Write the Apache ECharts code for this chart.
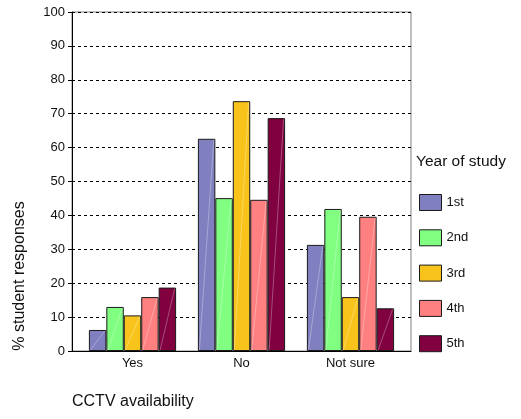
<!DOCTYPE html>
<html>
<head>
<meta charset="utf-8">
<script src="https://cdn.jsdelivr.net/npm/echarts@6/dist/echarts.min.js"></script>
<style>
	html, body {margin: 0; padding: 0; background: #fff;}
	#chart {width: 521px; height: 419px;}
</style>
</head>
<body>
<div id="chart"></div>
<script>
	var categories = ['Yes', 'No', 'Not sure'];
	var years = ['1st', '2nd', '3rd', '4th', '5th'];
	var year1 = [6.2, 62.6, 31.3];
	var year2 = [13.0, 45.1, 41.9];
	var year3 = [10.5, 73.7, 15.9];
	var year4 = [15.9, 44.6, 39.6];
	var year5 = [18.7, 68.7, 12.6];
	var colors = ['#8080c0', '#80ff80', '#f8c41c', '#ff8080', '#800040'];

	var fontFamily = '"Liberation Sans", Arial, sans-serif';
	var seriesData = [year1, year2, year3, year4, year5];
	var seriesArr = [];
	var shineData = [];//faint diagonal highlight on each bar
	for (var i = 0; i < years.length; i++) {
		seriesArr.push({
			name: years[i],
			type: 'bar',
			xAxisIndex: 1,
			yAxisIndex: 1,
			data: seriesData[i],
			barGap: '0%',
			barCategoryGap: '20%',
			itemStyle: {color: colors[i], borderColor: '#1a1a1a', borderWidth: 1}
		});
		for (var j = 0; j < categories.length; j++) {
			shineData.push([j, seriesData[i][j], i]);
		}
	}
	seriesArr.push({
		type: 'custom',
		xAxisIndex: 1,
		yAxisIndex: 1,
		silent: true,
		z: 3,
		data: shineData,
		renderItem: function (params, api) {
			var cat = api.value(0), val = api.value(1), idx = api.value(2);
			var top = api.coord([cat, val]);
			var base = api.coord([cat, 0]);
			var bw = api.size([1, 0])[0];
			var w = bw * 0.8 / years.length;
			var x0 = top[0] - bw * 0.4 + idx * w;
			return {
				type: 'line',
				shape: {x1: x0 + 1.5, y1: base[1] - 1, x2: x0 + w - 1.5, y2: top[1] + 1},
				style: {stroke: 'rgba(255,255,255,0.3)', lineWidth: 1}
			};
		}
	});

	var myChart = echarts.init(document.getElementById('chart'));
	myChart.setOption({
		animation: false,
		color: colors,
		textStyle: {fontFamily: fontFamily},
		grid: [{
			// frame
			left: 72, right: 110, top: 12, bottom: 68,
			show: true, borderColor: '#808080', borderWidth: 1
		}, {
			// bars, a little inset like the original
			left: 78, right: 116, top: 12, bottom: 68
		}],
		legend: {
			orient: 'vertical',
			left: 414,
			top: 189,
			itemWidth: 22,
			itemHeight: 16,
			itemGap: 18.3,
			icon: 'rect',
			itemStyle: {borderColor: '#1a1a1a', borderWidth: 1},
			textStyle: {fontSize: 13, color: '#111', fontFamily: fontFamily},
			data: years
		},
		xAxis: [{
			gridIndex: 0,
			type: 'category',
			data: [''],
			axisLine: {lineStyle: {color: '#000'}},
			axisTick: {show: false},
			axisLabel: {show: false}
		}, {
			gridIndex: 1,
			type: 'category',
			data: categories,
			axisLine: {show: false},
			axisTick: {alignWithLabel: true, length: 4, lineStyle: {color: '#000'}},
			axisLabel: {fontSize: 13, color: '#111', margin: 6}
		}],
		yAxis: [{
			gridIndex: 0,
			type: 'value',
			min: 0,
			max: 100,
			interval: 10,
			axisLine: {show: true, lineStyle: {color: '#000'}},
			axisTick: {show: true, length: 4, lineStyle: {color: '#000'}},
			axisLabel: {fontSize: 13, color: '#111', margin: 7},
			splitLine: {lineStyle: {color: '#000', type: [3, 3]}}
		}, {
			gridIndex: 1,
			type: 'value',
			min: 0,
			max: 100,
			interval: 10,
			show: false
		}],
		graphic: [{
			type: 'text',
			left: 416,
			top: 154,
			style: {text: 'Year of study', font: '15.5px ' + fontFamily, fill: '#111'}
		}, {
			type: 'text',
			left: 72,
			top: 394,
			style: {text: 'CCTV availability', font: '16px ' + fontFamily, fill: '#111'}
		}, {
			type: 'text',
			x: 20,
			y: 276,
			rotation: Math.PI / 2,
			style: {text: '% student responses', font: '16px ' + fontFamily, fill: '#111',
				align: 'center', verticalAlign: 'middle'}
		}],
		series: seriesArr
	});
</script>
</body>
</html>
